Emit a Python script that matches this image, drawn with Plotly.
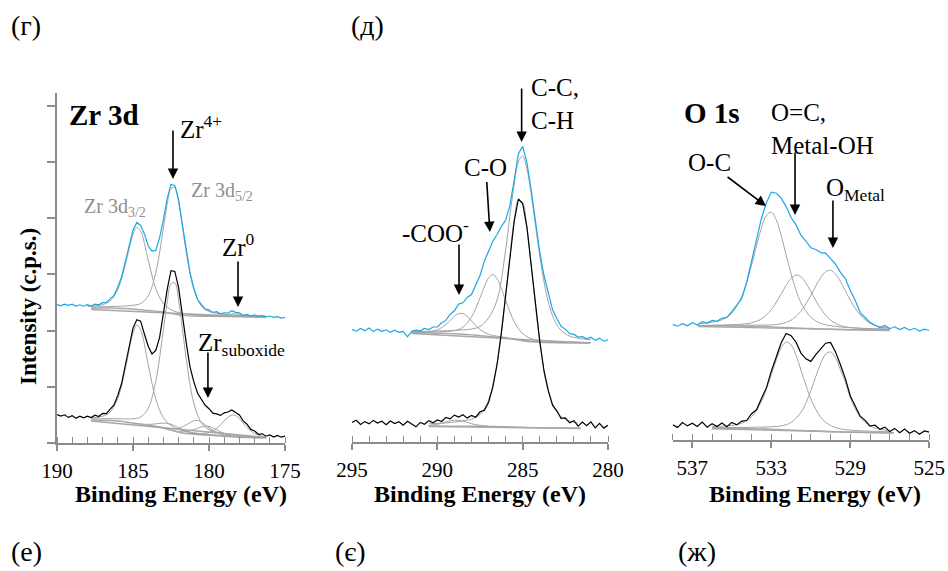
import plotly.graph_objects as go

# ===================== DATA (heights in arbitrary intensity units) =====================
# ---- Zr 3d (energy grid 190 -> 175 eV, step 0.25) ----
ZR_TOP = [138.5, 137.2, 138.8, 137.6, 138.9, 137.0, 138.2, 136.8, 138.4, 137.0,
          138.9, 138.2, 140.3, 140.6, 144.4, 147.6, 156.0, 166.0, 181.8, 197.0,
          212.8, 220.6, 217.5, 209.1, 197.0, 191.8, 192.6, 205.2, 223.0, 244.6,
          258.6, 257.6, 243.5, 218.2, 193.6, 170.4, 155.3, 143.5, 138.6, 133.8,
          133.1, 130.6, 131.3, 129.2, 130.1, 130.0, 132.3, 130.7, 130.2, 127.4,
          128.5, 126.9, 128.0, 126.6, 127.5, 126.2, 127.0, 125.6, 126.3, 124.9, 125.6]
ZR_BOT = [28.5, 27.0, 28.2, 25.6, 27.4, 24.8, 26.9, 25.2, 26.8, 25.4,
          27.8, 26.5, 29.6, 29.3, 33.8, 38.0, 47.6, 59.5, 78.0, 96.4,
          114.9, 123.2, 121.8, 109.0, 96.8, 89.0, 92.6, 105.7, 129.9, 153.6,
          172.3, 171.6, 155.4, 126.8, 100.3, 76.2, 61.4, 49.8, 44.2, 37.7,
          34.3, 29.8, 29.1, 27.6, 30.2, 31.0, 33.1, 30.4, 28.0, 22.1,
          18.8, 13.6, 12.0, 8.7, 9.2, 6.8, 8.1, 5.9, 7.6, 5.8, 6.9]

# fitted components (top sample)
ZRT_32_X = [188, 187.5, 187, 186.5, 186, 185.5, 185, 184.75, 184.5, 184, 183.5, 183, 182.5, 182, 181, 180, 178, 176.25]
ZRT_32_Y = [136.6, 137.1, 138.3, 142.1, 153.5, 178.6, 208.5, 215.4, 211.8, 183, 154.4, 139.5, 133.3, 130.5, 128.2, 127.5, 126.7, 126.0]
ZRT_52_X = [187.75, 187, 186, 185, 184.5, 184, 183.5, 183, 182.75, 182.5, 182.25, 182, 181.75, 181.5, 181, 180.5, 180, 179.5, 179, 178, 177, 176.25]
ZRT_52_Y = [135.9, 136.3, 136.7, 137.7, 139.5, 147.1, 170.6, 215, 238.6, 254.4, 255.4, 240.7, 216.9, 191.4, 153.5, 136.9, 131.5, 129.7, 128.7, 127.6, 127, 126.8]
ZRT_M_X = [180, 179.5, 179, 178.5, 178.25, 178, 177.5, 177, 176.5]
ZRT_M_Y = [126.7, 127.0, 127.6, 129.2, 129.1, 128.4, 127.2, 126.6, 126.3]
ZRT_BG_X = [187.75, 186.5, 186, 185.5, 185, 184.5, 184, 183.5, 183, 182.5, 182, 181.5, 181, 180, 178, 176.25]
ZRT_BG_Y = [135, 135, 134.8, 134.5, 134, 133.2, 132.5, 131.8, 131, 129.5, 128.2, 127.4, 127, 126.6, 126.2, 126]
ZRT_LIN_X = [187.75, 176.25]
ZRT_LIN_Y = [133.5, 125.5]

# fitted components (bottom sample)
ZRB_52_X = [187.75, 187, 186, 185, 184.5, 184, 183.5, 183, 182.75, 182.5, 182.25, 182, 181.75, 181.5, 181, 180.5, 180, 179, 178, 176.25]
ZRB_52_Y = [24.1, 24.3, 24.3, 24.2, 26.0, 34.7, 62.1, 113.4, 140.8, 159.2, 160.2, 142.7, 114.5, 84.5, 39.9, 20.1, 13.4, 9.5, 7.4, 5.9]
ZRB_32_X = [187.75, 187, 186.5, 186, 185.5, 185, 184.75, 184.5, 184, 183.5, 183, 182.5, 182, 181, 180, 178, 176.25]
ZRB_32_Y = [25.1, 26.8, 31.0, 44.6, 74.3, 109.8, 117.9, 113.4, 78.6, 43.9, 25.3, 17.4, 13.6, 10.3, 8.7, 6.2, 5.4]
ZRB_S3_X = [185, 184, 183.5, 183, 182.5, 182, 181.5, 181, 180]
ZRB_S3_Y = [20.0, 18.6, 19.2, 19.9, 18.8, 15.2, 11.7, 9.6, 7.9]
ZRB_Z3_X = [184, 183, 182.5, 182, 181.5, 181, 180.75, 180.5, 180, 179.5, 179, 178, 177]
ZRB_Z3_Y = [17.9, 15.6, 14.3, 14.7, 18.1, 22.2, 22.5, 20.9, 15.2, 10.5, 8.0, 6.1, 5.4]
ZRB_S5_X = [183, 182, 181.5, 181, 180.5, 180.25, 180, 179.5, 179, 178.5, 177.5, 176.5]
ZRB_S5_Y = [15.2, 11.5, 11.4, 13.3, 16.1, 16.8, 16.5, 13.2, 9.5, 7.2, 5.7, 5.15]
ZRB_Z5_X = [181.5, 181, 180.5, 180, 179.5, 179, 178.75, 178.5, 178.25, 178, 177.5, 177, 176.5, 176.25]
ZRB_Z5_Y = [10.0, 9.5, 9.4, 10.5, 14.6, 22.1, 25.8, 28.0, 27.45, 24.3, 15.6, 9.3, 6.65, 6.1]
ZRB_BG_X = [187.75, 187, 186.5, 186, 185.5, 185, 184.5, 184, 183.5, 183, 182.5, 182, 181.5, 181, 180.5, 180, 179.5, 179, 178.5, 178, 177.5, 177, 176.25]
ZRB_BG_Y = [23, 22.8, 22.5, 22, 21, 19.8, 18.6, 17.6, 16.6, 15, 12.8, 10.8, 9.5, 8.8, 8.2, 7.7, 7.3, 6.8, 6.2, 5.7, 5.4, 5.2, 5]
ZRB_LIN_X = [187.75, 176.25]
ZRB_LIN_Y = [22, 5.5]

# ---- C 1s (energy grid 295 -> 280 eV, step 0.25) ----
C_TOP = [112.5, 110.8, 113.6, 111.2, 113.9, 110.4, 112.9, 110.6, 112.2, 109.8,
         111.9, 109.7, 110.6, 105.2, 110.8, 111.9, 111.2, 113.6, 112.5, 115.0,
         115.1, 119.2, 121.6, 127.8, 131.2, 137.9, 139.2, 144.6, 147.4, 156.8,
         166.5, 180.6, 191.4, 200.8, 207.5, 215.6, 221.7, 236.4, 261.5, 288.3,
         295.6, 279.4, 252.0, 220.8, 190.1, 166.5, 148.6, 132.4, 123.5, 115.6,
         112.8, 108.4, 107.6, 104.9, 105.3, 103.2, 104.8, 101.6, 103.9, 100.8, 102.2]
C_BOT = [19.5, 21.8, 17.6, 20.4, 18.1, 21.6, 18.9, 20.8, 17.2, 21.0,
         18.4, 20.3, 16.9, 20.8, 18.0, 15.2, 19.6, 17.8, 21.4, 19.2,
         22.0, 20.5, 24.6, 23.1, 26.9, 25.0, 27.3, 23.9, 26.6, 24.8,
         30.2, 31.6, 39.5, 54.8, 77.5, 108.9, 146.2, 184.9, 220.4, 243.0,
         238.5, 214.6, 177.8, 135.9, 101.2, 71.0, 51.6, 36.8, 31.2, 23.6,
         24.1, 19.2, 21.3, 15.8, 19.9, 16.4, 20.1, 14.2, 18.6, 13.9, 16.8]

CT_CC_X = [291.5, 290, 289, 288, 287.5, 287, 286.5, 286, 285.75, 285.5, 285.25, 285, 284.75, 284.5, 284.25, 284, 283.5, 283, 282.5, 282, 281]
CT_CC_Y = [110.3, 111.0, 111.6, 113.0, 115.5, 124.0, 142.0, 192.0, 226.0, 257.0, 280.0, 285.9, 273.3, 247.6, 216.8, 186.4, 140.2, 117.1, 108.1, 104.6, 102.2]
CT_CO_X = [291.5, 290, 289, 288.5, 288, 287.5, 287.25, 287, 286.75, 286.5, 286.25, 286, 285.5, 285, 284.5, 284, 283, 281]
CT_CO_Y = [109.6, 110.1, 111.3, 114.8, 124.9, 144.2, 155.0, 164.0, 167.3, 163.3, 153.5, 141.8, 120.5, 108.4, 103.3, 101.5, 100.3, 99.5]
CT_COO_X = [291.5, 291, 290.5, 290, 289.5, 289, 288.75, 288.5, 288.25, 288, 287.5, 287, 286.5, 286, 285, 283, 281]
CT_COO_Y = [109.5, 109.7, 110.2, 112.1, 117.5, 125.6, 128.4, 128.4, 125.5, 121.1, 112.5, 107.8, 105.8, 104.6, 101.7, 99.4, 99.1]
CT_BG_X = [291.5, 290.5, 289.5, 289, 288.5, 288, 287.5, 287, 286.5, 286, 285.5, 285, 284.5, 284, 283, 282, 281.1]
CT_BG_Y = [109, 109, 108.6, 108.2, 107.7, 107.1, 106.4, 105.6, 104.9, 104, 102.7, 101.3, 100.2, 99.6, 99.2, 99.1, 99]
CT_LIN_X = [291.5, 281.1]
CT_LIN_Y = [108.5, 99]

CB_CC_X = [290.5, 289.5, 288.5, 288, 287.5, 287, 286.5, 286, 285.75, 285.5, 285.25, 285, 284.75, 284.5, 284, 283.5, 283, 282.5, 281.75]
CB_CC_Y = [18.2, 19.05, 21.15, 22.9, 27.6, 41.7, 78.65, 145.6, 185.75, 221.1, 241.75, 239.1, 215.15, 177.0, 100.3, 50.7, 30.05, 22.5, 19.0]
CB_COO_X = [290.5, 290, 289.5, 289, 288.5, 288, 287.5, 287]
CB_COO_Y = [16.6, 17.7, 19.95, 21.8, 20.85, 18.3, 16.65, 15.9]
CB_BG_X = [290.5, 289, 288, 287, 286, 285.5, 285, 284.5, 284, 283, 281.6]
CB_BG_Y = [16, 15.9, 15.8, 15.6, 15.3, 15, 14.7, 14.4, 14.2, 14.05, 14]
CB_LIN_X = [290.5, 281.6]
CB_LIN_Y = [15.5, 13.5]

# ---- O 1s (energy grid 538 -> 525 eV, step 0.25) ----
O_TOP = [115.6, 113.8, 116.4, 114.2, 117.3, 115.0, 118.4, 116.9, 119.6, 118.7,
         121.9, 122.6, 128.4, 134.9, 141.2, 157.5, 178.8, 200.1, 221.8, 237.2,
         247.9, 246.8, 241.9, 233.4, 222.5, 215.1, 204.8, 199.0, 192.2, 190.5,
         187.4, 186.9, 181.6, 175.8, 167.6, 161.5, 149.4, 139.5, 127.4, 122.0,
         117.6, 114.8, 112.4, 114.6, 111.3, 113.2, 110.4, 112.6, 109.8, 111.7,
         108.9, 110.8, 109.5]
O_BOT = [15.2, 12.6, 17.4, 14.1, 16.8, 13.5, 17.9, 12.8, 16.2, 13.4,
         16.9, 13.2, 17.6, 15.1, 18.9, 19.5, 26.3, 30.2, 41.6, 52.1,
         68.8, 83.4, 97.2, 106.5, 104.3, 97.8, 86.9, 81.2, 78.6, 85.4,
         90.9, 96.8, 97.5, 88.1, 75.2, 61.4, 44.0, 34.1, 23.8, 19.6,
         13.9, 14.8, 10.6, 12.9, 8.4, 11.6, 7.2, 10.9, 6.8, 9.4,
         5.7, 9.1, 7.9]

OT_OC_X = [536.7, 536, 535.5, 535, 534.5, 534.25, 534, 533.75, 533.5, 533.25, 533, 532.75, 532.5, 532.25, 532, 531.75, 531.5, 531, 530.5, 530, 529, 528, 527]
OT_OC_Y = [116.2, 117.8, 120.15, 126.9, 143.7, 157.55, 174.9, 194.1, 212.0, 224.6, 227.8, 220.1, 204.3, 185.1, 166.1, 149.8, 137.25, 122.7, 116.65, 114.3, 112.3, 111.4, 110.9]
OT_OH_X = [536.7, 535.5, 534.5, 534, 533.5, 533, 532.5, 532.25, 532, 531.75, 531.5, 531.25, 531, 530.5, 530, 529.5, 529, 528, 527]
OT_OH_Y = [114.6, 114.95, 115.8, 117.2, 121.1, 130.4, 146.1, 154.6, 161.6, 164.9, 163.25, 157.1, 148.6, 131.35, 119.9, 114.5, 112.5, 111.2, 110.7]
OT_M_X = [536.7, 535, 534, 533, 532.5, 532, 531.5, 531, 530.75, 530.5, 530.25, 530, 529.75, 529.5, 529, 528.5, 528, 527.5, 527]
OT_M_Y = [114.4, 114.7, 114.9, 115.1, 116.3, 119.9, 128.75, 144.7, 153.85, 162.55, 168.3, 169.7, 165.95, 158.6, 139.8, 125.1, 116.8, 113.2, 112]
OT_BG_X = [536.7, 535, 534, 533, 532, 531, 530, 529, 528, 527]
OT_BG_Y = [114, 113.9, 113.7, 113, 112.2, 111.5, 110.8, 110.3, 110.1, 110]
OT_LIN_X = [536.7, 527]
OT_LIN_Y = [113.5, 109.5]

OB_C1_X = [536, 535, 534.5, 534, 533.5, 533.25, 533, 532.75, 532.5, 532.25, 532, 531.75, 531.5, 531.25, 531, 530.5, 530, 529.5, 529, 528, 527]
OB_C1_Y = [13.4, 14.6, 16.8, 23.2, 38.55, 50.85, 65.3, 80.05, 92.2, 97.95, 95.0, 84.8, 70.0, 54.95, 41.2, 22.8, 14.5, 11.2, 9.9, 8.8, 8.3]
OB_C2_X = [536, 535, 534, 533, 532.5, 532, 531.5, 531.25, 531, 530.75, 530.5, 530.25, 530, 529.75, 529.5, 529.25, 529, 528.5, 528, 527.5, 527]
OB_C2_Y = [12.3, 12.45, 12.7, 13.2, 14.1, 17.6, 27.7, 36.75, 49.2, 63.4, 76.5, 85.85, 88.1, 82.3, 70.3, 57.95, 42.4, 22.9, 13.9, 10.66, 9.52]
OB_BG_X = [536, 535, 534, 533, 532.5, 532, 531.5, 531, 530.5, 530, 529.5, 529, 528, 526.8]
OB_BG_Y = [11.7, 11.6, 11.4, 10.9, 10.4, 9.9, 9.5, 9.2, 8.8, 8.3, 7.9, 7.6, 7.4, 7.3]
OB_LIN_X = [536, 526.8]
OB_LIN_Y = [11.2, 7.0]

# ===================== STYLE =====================
FONT = "Liberation Serif, Times New Roman, serif"
BLUE = "#1ba6e4"
GRAY_C = "#a3a3a3"
GRAY_BG = "#a8a8a8"
AXIS = "#8c8c8c"


def grid(start, n):
    return [start - 0.25 * i for i in range(n)]


fig = go.Figure()


def line(x, y, color, width, xa, ya, shape="linear"):
    fig.add_trace(go.Scatter(x=x, y=y, mode="lines", xaxis=xa, yaxis=ya,
                             line=dict(color=color, width=width, shape=shape),
                             hoverinfo="skip", showlegend=False))


# --- panel 1 ---
for xs, ys in [(ZRT_LIN_X, ZRT_LIN_Y), (ZRT_BG_X, ZRT_BG_Y), (ZRB_LIN_X, ZRB_LIN_Y), (ZRB_BG_X, ZRB_BG_Y)]:
    line(xs, ys, GRAY_BG, 1.4, "x", "y", "spline")
for xs, ys in [(ZRT_32_X, ZRT_32_Y), (ZRT_52_X, ZRT_52_Y), (ZRT_M_X, ZRT_M_Y),
               (ZRB_52_X, ZRB_52_Y), (ZRB_32_X, ZRB_32_Y), (ZRB_S3_X, ZRB_S3_Y),
               (ZRB_Z3_X, ZRB_Z3_Y), (ZRB_S5_X, ZRB_S5_Y), (ZRB_Z5_X, ZRB_Z5_Y)]:
    line(xs, ys, GRAY_C, 1.0, "x", "y", "spline")
line(grid(190, len(ZR_TOP)), ZR_TOP, BLUE, 1.2, "x", "y")
line(grid(190, len(ZR_BOT)), ZR_BOT, "black", 1.2, "x", "y")

# --- panel 2 ---
for xs, ys in [(CT_LIN_X, CT_LIN_Y), (CT_BG_X, CT_BG_Y), (CB_LIN_X, CB_LIN_Y), (CB_BG_X, CB_BG_Y)]:
    line(xs, ys, GRAY_BG, 1.4, "x2", "y2", "spline")
for xs, ys in [(CT_CC_X, CT_CC_Y), (CT_CO_X, CT_CO_Y), (CT_COO_X, CT_COO_Y),
               (CB_CC_X, CB_CC_Y), (CB_COO_X, CB_COO_Y)]:
    line(xs, ys, GRAY_C, 1.0, "x2", "y2", "spline")
line(grid(295, len(C_TOP)), C_TOP, BLUE, 1.2, "x2", "y2")
line(grid(295, len(C_BOT)), C_BOT, "black", 1.2, "x2", "y2")

# --- panel 3 ---
for xs, ys in [(OT_LIN_X, OT_LIN_Y), (OT_BG_X, OT_BG_Y), (OB_LIN_X, OB_LIN_Y), (OB_BG_X, OB_BG_Y)]:
    line(xs, ys, GRAY_BG, 1.4, "x3", "y3", "spline")
for xs, ys in [(OT_OC_X, OT_OC_Y), (OT_OH_X, OT_OH_Y), (OT_M_X, OT_M_Y),
               (OB_C1_X, OB_C1_Y), (OB_C2_X, OB_C2_Y)]:
    line(xs, ys, GRAY_C, 1.0, "x3", "y3", "spline")
line(grid(538, len(O_TOP)), O_TOP, BLUE, 1.2, "x3", "y3")
line(grid(538, len(O_BOT)), O_BOT, "black", 1.2, "x3", "y3")

W, H = 948, 571


def xdom(a, b):
    return [a / W, b / W]


def ydom(bottom, top=93):
    return [1 - bottom / H, 1 - top / H]


def xaxis(dom, rng, tick0, dtick, anchor):
    return dict(domain=dom, range=rng, anchor=anchor, showline=True, linecolor=AXIS, linewidth=1.5,
                tickmode="linear", tick0=tick0, dtick=dtick, automargin=False,
                ticks="outside", ticklen=6, tickwidth=1.5, tickcolor=AXIS,
                minor=dict(dtick=1, ticks="inside", ticklen=6, tickwidth=1.2, tickcolor=AXIS, showgrid=False),
                showgrid=False, zeroline=False, ticklabelstandoff=2,
                tickfont=dict(family=FONT, size=21, color="black"))


fig.update_layout(
    width=W, height=H, autosize=False, margin=dict(l=0, r=0, t=0, b=0, pad=0, autoexpand=False),
    paper_bgcolor="white", plot_bgcolor="white", showlegend=False,
    font=dict(family=FONT),
    xaxis=xaxis(xdom(57, 285), [190, 175], 190, 5, "y"),
    xaxis2=xaxis(xdom(352, 608), [295, 280], 295, 5, "y2"),
    xaxis3=xaxis(xdom(672.6, 929.3), [538, 525], 525, 4, "y3"),
    yaxis=dict(domain=ydom(443), range=[0, 350], anchor="x", showline=True, linecolor=AXIS, linewidth=1.5,
               ticks="outside", ticklen=8, tickwidth=1.5, tickcolor=AXIS, tickmode="linear", tick0=0, dtick=56.2,
               showticklabels=False, showgrid=False, zeroline=False, automargin=False),
    yaxis2=dict(domain=ydom(442), range=[0, 349], anchor="x2", visible=False, automargin=False),
    yaxis3=dict(domain=ydom(440), range=[0, 347], anchor="x3", visible=False, automargin=False),
)

ann = []


def text(x, y, t, size=25, xref="x", yref="y", xanchor="center", color="black", align="center",
         angle=0, yanchor="middle"):
    ann.append(dict(x=x, y=y, xref=xref, yref=yref, text=t, showarrow=False, xanchor=xanchor,
                    yanchor=yanchor, align=align, textangle=angle, borderpad=0,
                    font=dict(family=FONT, size=size, color=color)))


def arrow(x, y, ax, ay, xref, yref, label="", size=25):
    ann.append(dict(x=x, y=y, xref=xref, yref=yref, text=label, showarrow=True, ax=ax, ay=ay,
                    arrowhead=2, arrowsize=1.3, arrowwidth=1.6, arrowcolor="black", standoff=0,
                    borderpad=0, font=dict(family=FONT, size=size, color="black")))


# panel letters
text(26 / W, 1 - 25 / H, "(г)", 28, "paper", "paper")
text(367 / W, 1 - 25 / H, "(д)", 28, "paper", "paper")
text(26 / W, 1 - 551 / H, "(е)", 28, "paper", "paper")
text(350 / W, 1 - 551 / H, "(є)", 28, "paper", "paper")
text(697 / W, 1 - 551 / H, "(ж)", 28, "paper", "paper")

# axis titles
text(28 / W, 1 - 307 / H, "<b>Intensity (c.p.s.)</b>", 23, "paper", "paper", angle=-90)
for cx in (181, 480, 815):
    text(cx / W, 1 - 494 / H, "<b>Binding Energy (eV)</b>", 24, "paper", "paper")

# panel 1 labels
text(189.28, 328, "<b>Zr 3d</b>", 29, "x", "y", "left")
text(188.29, 235, "Zr 3d<sub>3/2</sub>", 20, "x", "y", "left", color="#8f8f8f")
text(181.25, 251, "Zr 3d<sub>5/2</sub>", 20, "x", "y", "left", color="#8f8f8f")
text(181.97, 316, "Zr<sup>4+</sup>", 25, "x", "y", "left")
arrow(182.37, 264, 0, -49, "x", "y")
arrow(178.09, 136, 0, -62, "x", "y", "Zr<sup>0</sup>")
text(180.79, 99, "Zr<sub>suboxide</sub>", 25, "x", "y", "left")
arrow(180.07, 45, 0, -46, "x", "y")

# panel 2 labels
text(294.71, 352, "<b>C 1s</b>", 29, "x2", "y2", "left")
text(284.57, 338, "C-C,<br>C-H", 25, "x2", "y2", "left", align="left")
arrow(285.06, 300, 0, -54, "x2", "y2")
arrow(286.92, 210, -4, -64, "x2", "y2", "C-O")
text(290.08, 211, "-COO<sup>-</sup>", 25, "x2", "y2")
arrow(288.73, 147, 0, -51, "x2", "y2")

# panel 3 labels
text(537.47, 327, "<b>O 1s</b>", 29, "x3", "y3", "left")
text(533.07, 311, "O=C,<br>Metal-OH", 25, "x3", "y3", "left", align="left")
arrow(531.8, 225, 0, -63, "x3", "y3")
arrow(533.27, 234, -57, -43, "x3", "y3", "O-C")
text(530.29, 250, "O<sub>Metal</sub>", 25, "x3", "y3", "left")
arrow(529.88, 192, 0, -48, "x3", "y3")

fig.update_layout(annotations=ann)
fig.write_html("out.html", config={"responsive": False})
